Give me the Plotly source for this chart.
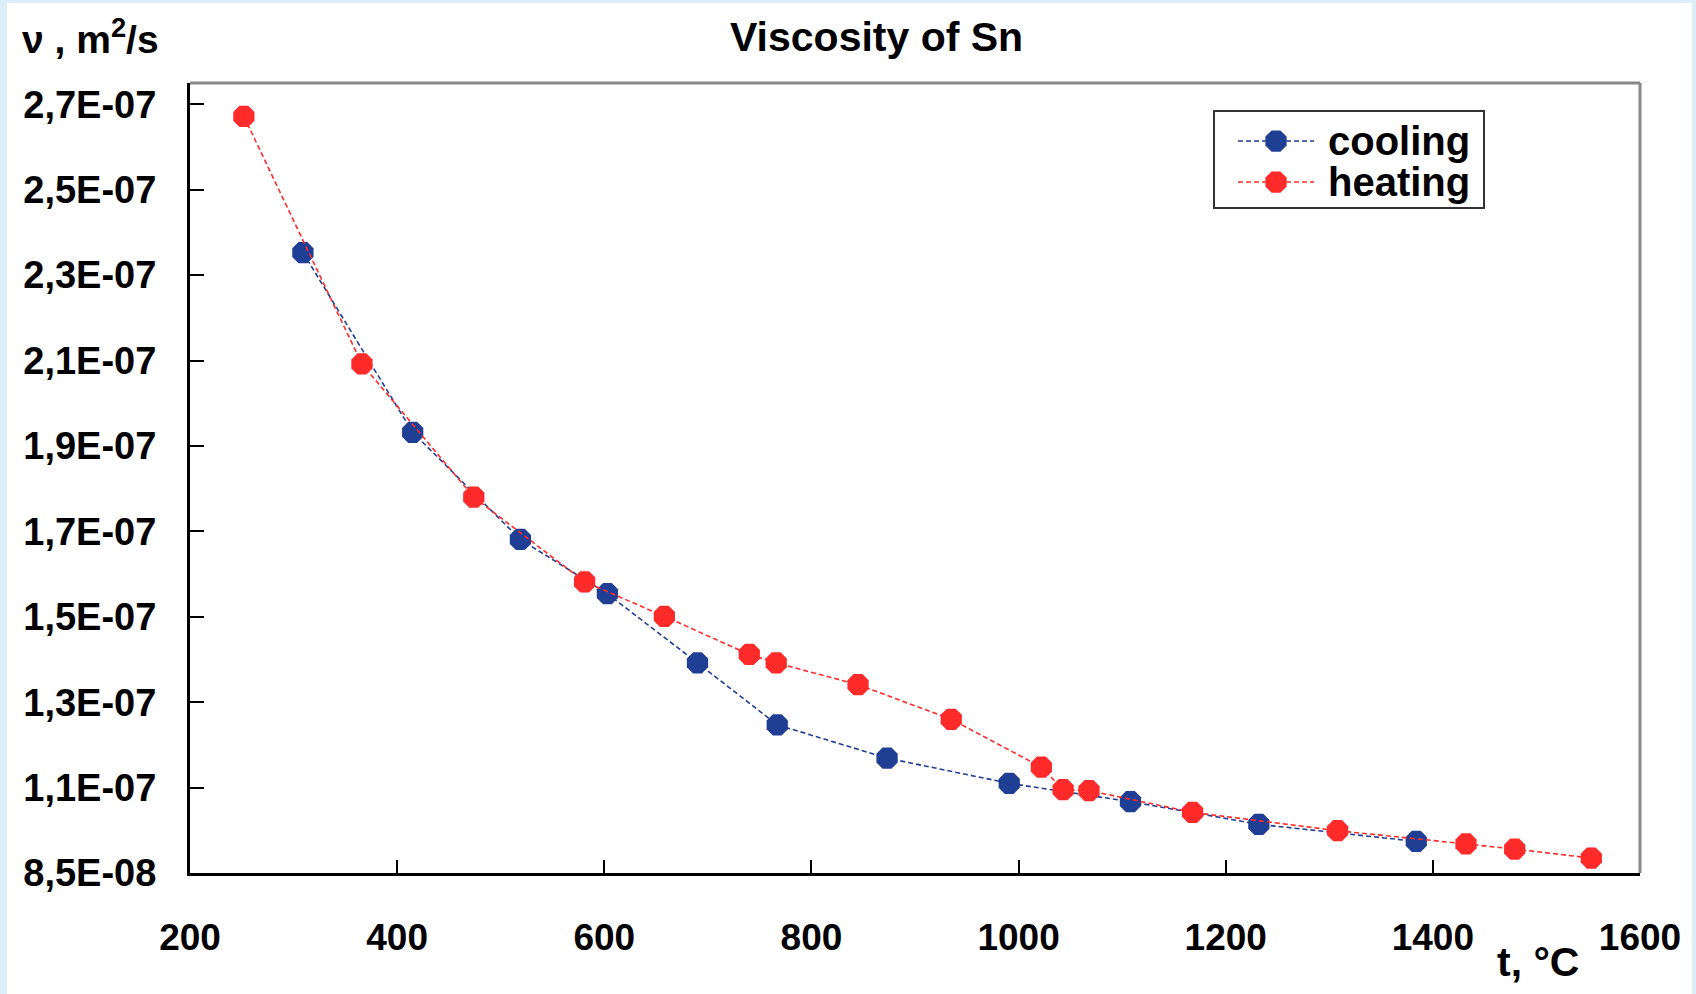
import math
import plotly.graph_objects as go

# Data
cooling_t = [309, 415, 519, 603, 690, 767, 873, 991, 1108, 1232, 1384]
cooling_nu = [2.303e-07, 1.882e-07, 1.631e-07, 1.504e-07, 1.342e-07, 1.197e-07,
              1.119e-07, 1.060e-07, 1.017e-07, 0.964e-07, 0.924e-07]

heating_t = [252, 366, 474, 581, 658, 740, 766, 845, 935, 1022, 1043, 1068,
             1168, 1308, 1432, 1479, 1553]
heating_nu = [2.622e-07, 2.042e-07, 1.730e-07, 1.532e-07, 1.451e-07, 1.362e-07,
              1.342e-07, 1.291e-07, 1.210e-07, 1.098e-07, 1.045e-07, 1.043e-07,
              0.992e-07, 0.949e-07, 0.918e-07, 0.906e-07, 0.885e-07]

y_tickvals = [8.5e-08, 10.5e-08, 12.5e-08, 14.5e-08, 16.5e-08, 18.5e-08,
              20.5e-08, 22.5e-08, 24.5e-08, 26.5e-08]
y_ticktext = ["8,5E-08", "1,1E-07", "1,3E-07", "1,5E-07", "1,7E-07", "1,9E-07",
              "2,1E-07", "2,3E-07", "2,5E-07", "2,7E-07"]
x_tickvals = [200, 400, 600, 800, 1000, 1200, 1400, 1600]

series_names = ["cooling", "heating"]
BLUE = "#1f3f94"
RED = "#ff2b2b"
series_colors = [BLUE, RED]
FONT = "Liberation Sans, Arial, sans-serif"
DASH = "5px,3px"

fig = go.Figure()
fig.add_trace(go.Scatter(
    x=cooling_t, y=cooling_nu, name=series_names[0], mode="lines+markers",
    line=dict(color=BLUE, width=1.6, dash=DASH),
    marker=dict(symbol="octagon", size=23, color=BLUE),
    showlegend=False,
))
fig.add_trace(go.Scatter(
    x=heating_t, y=heating_nu, name=series_names[1], mode="lines+markers",
    line=dict(color=RED, width=1.6, dash=DASH),
    marker=dict(symbol="octagon", size=23, color=RED),
    showlegend=False,
))

W, H = 1696, 994
L, R, T, B = 190, 56, 83, 121
pw = W - L - R
ph = H - T - B


def px_to_paper(xp, yp):
    return (xp - L) / pw, (H - B - yp) / ph


fig.update_layout(
    width=W, height=H,
    margin=dict(l=L, r=R, t=T, b=B),
    paper_bgcolor="#ddeefb",
    plot_bgcolor="white",
    showlegend=False,
    font=dict(family=FONT, color="black"),
)

fig.update_xaxes(
    range=[200, 1600], tickvals=x_tickvals,
    ticks="inside", ticklen=13, tickwidth=2, tickcolor="black",
    showline=True, linecolor="black", linewidth=3,
    showgrid=False, zeroline=False,
    tickfont=dict(family=FONT, size=37, color="black", weight="bold"),
    ticklabelstandoff=30,
)
fig.update_yaxes(
    range=[8.5e-08, 2.7e-07], tickvals=y_tickvals, ticktext=y_ticktext,
    ticks="inside", ticklen=14, tickwidth=2, tickcolor="black",
    showline=True, linecolor="black", linewidth=3,
    showgrid=False, zeroline=False,
    tickfont=dict(family=FONT, size=38, color="black", weight="bold"),
    ticklabelstandoff=23,
)

# white page inside the light blue frame, gray top/right border of plot
fig.add_shape(type="rect", xref="paper", yref="paper", layer="below",
              x0=-(L - 7) / pw, x1=1 + (R - 4) / pw,
              y0=-B / ph, y1=1 + (T - 3) / ph,
              fillcolor="white", line=dict(width=0))
fig.add_shape(type="line", xref="paper", yref="paper", x0=0, x1=1, y0=1, y1=1,
              line=dict(color="#888888", width=3))
fig.add_shape(type="line", xref="paper", yref="paper", x0=1, x1=1, y0=0, y1=1,
              line=dict(color="#888888", width=3))

# legend box (drawn to match the reference's legend layout)
lx0, ly0 = px_to_paper(1214, 111)
lx1, ly1 = px_to_paper(1484, 208)
fig.add_shape(type="rect", xref="paper", yref="paper",
              x0=lx0, x1=lx1, y0=ly1, y1=ly0,
              fillcolor="white", line=dict(color="#333333", width=2))
row_y = [141, 182]
for name, color, yy in zip(series_names, series_colors, row_y):
    a0, b0 = px_to_paper(1238, yy)
    a1, _ = px_to_paper(1314, yy)
    fig.add_shape(type="line", xref="paper", yref="paper",
                  x0=a0, x1=a1, y0=b0, y1=b0,
                  line=dict(color=color, width=1.6, dash=DASH))
    cx, cy, r = 1276, yy, 11.5
    pts = []
    for k in range(8):
        ang = math.radians(22.5 + 45 * k)
        pxp, pyp = px_to_paper(cx + r * math.cos(ang), cy + r * math.sin(ang))
        pts.append(f"{pxp:.5f},{pyp:.5f}")
    path = "M" + " L".join(pts) + " Z"
    fig.add_shape(type="path", xref="paper", yref="paper", path=path,
                  fillcolor=color, line=dict(color=color, width=0))
    tx, ty = px_to_paper(1326, yy)
    fig.add_annotation(text=name, xref="paper", yref="paper",
                       x=tx, y=ty, xanchor="left", yanchor="middle", showarrow=False,
                       font=dict(family=FONT, size=40, color="black", weight="bold"))

tx, ty = px_to_paper(876, 37)
fig.add_annotation(text="Viscosity of Sn", xref="paper", yref="paper",
                   x=tx, y=ty, xanchor="center", yanchor="middle", showarrow=False,
                   font=dict(family=FONT, size=41, color="black", weight="bold"))
ax, ay = px_to_paper(20, 37)
fig.add_annotation(text="ν , m<sup>2</sup>/s", xref="paper", yref="paper",
                   x=ax, y=ay, xanchor="left", yanchor="middle", showarrow=False,
                   font=dict(family=FONT, size=39, color="black", weight="bold"))
bx, by = px_to_paper(1538, 962)
fig.add_annotation(text="t, °C", xref="paper", yref="paper",
                   x=bx, y=by, xanchor="center", yanchor="middle", showarrow=False,
                   font=dict(family=FONT, size=41, color="black", weight="bold"))

fig.write_html("out.html")
